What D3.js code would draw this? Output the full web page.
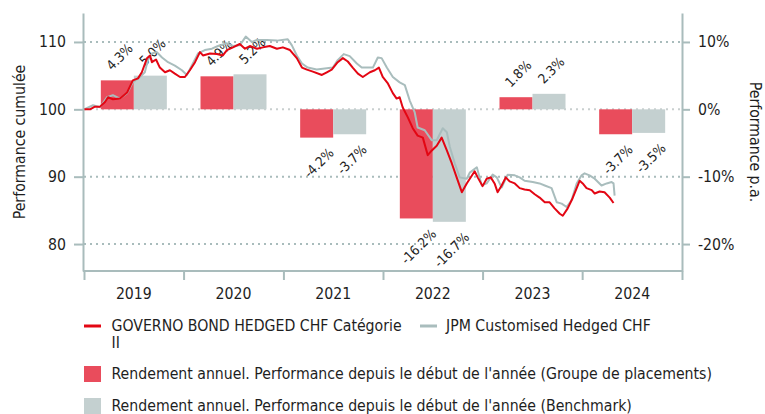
<!DOCTYPE html>
<html>
<head>
<meta charset="utf-8">
<script src="https://cdn.jsdelivr.net/npm/d3@7"></script>
<style>
  body { margin: 0; background: #fff; }
  svg { font-family: 'DejaVu Sans Condensed', 'DejaVu Sans', sans-serif; }
</style>
</head>
<body>
<svg id="chart" width="765" height="414"></svg>
<script>
"use strict";

var parseTime = d3.timeParse('%Y-%m-%d');

var years = ['2019', '2020', '2021', '2022', '2023', '2024'];
var fundReturns = [4.3, 4.9, -4.2, -16.2, 1.8, -3.7];
var benchReturns = [5.0, 5.2, -3.7, -16.7, 2.3, -3.5];

var leftTicks = [80, 90, 100, 110];
var rightTicks = [-20, -10, 0, 10];

var fundDates = [
  '2019-01-01', '2019-01-23', '2019-02-10', '2019-03-01', '2019-03-19', '2019-03-30', '2019-04-17',
  '2019-05-13', '2019-06-08', '2019-06-29', '2019-07-18', '2019-08-01', '2019-08-20', '2019-08-31',
  '2019-09-07', '2019-09-22', '2019-10-06', '2019-10-25', '2019-11-12', '2019-11-30', '2019-12-19',
  '2020-01-06', '2020-01-24', '2020-02-12', '2020-03-01', '2020-03-12', '2020-04-07', '2020-05-02',
  '2020-05-24', '2020-06-08', '2020-06-30', '2020-07-25', '2020-08-13', '2020-08-31', '2020-09-26',
  '2020-10-18', '2020-11-12', '2020-12-08', '2020-12-30', '2021-01-25', '2021-02-19', '2021-03-10',
  '2021-03-28', '2021-04-19', '2021-05-22', '2021-06-09', '2021-06-27', '2021-07-19', '2021-08-07',
  '2021-08-25', '2021-09-12', '2021-10-01', '2021-10-19', '2021-11-14', '2021-12-02', '2021-12-17',
  '2021-12-31', '2022-01-18', '2022-02-06', '2022-02-20', '2022-03-03', '2022-03-14', '2022-04-02',
  '2022-04-20', '2022-05-08', '2022-05-27', '2022-06-14', '2022-06-29', '2022-07-17', '2022-08-04',
  '2022-08-23', '2022-09-10', '2022-09-28', '2022-10-17', '2022-11-04', '2022-12-03', '2022-12-14',
  '2023-01-01', '2023-01-16', '2023-01-31', '2023-02-14', '2023-02-25', '2023-03-12', '2023-03-27',
  '2023-04-10', '2023-04-29', '2023-05-17', '2023-06-04', '2023-06-23', '2023-07-11', '2023-07-29',
  '2023-08-17', '2023-09-04', '2023-09-22', '2023-10-11', '2023-10-22', '2023-11-09', '2023-11-27',
  '2023-12-12', '2023-12-23', '2024-01-03', '2024-01-17', '2024-02-05', '2024-02-16', '2024-03-05',
  '2024-03-23', '2024-04-11', '2024-04-25'
];
var fundValues = [
  100.0, 100.0, 100.4, 100.4, 101.1, 101.8, 101.5,
  101.6, 102.5, 104.3, 104.6, 105.5, 107.6, 108.0,
  107.0, 107.4, 106.2, 105.5, 105.8, 105.3, 104.8,
  104.8, 105.8, 107.0, 108.5, 108.0, 108.3, 108.2,
  108.0, 108.8, 109.2, 109.7, 109.0, 109.4, 109.0,
  109.2, 109.4, 109.0, 109.2, 108.8, 107.6, 106.2,
  105.9, 105.6, 105.1, 105.5, 105.9, 107.0, 107.6,
  107.1, 106.2, 105.3, 104.8, 105.5, 105.8, 106.2,
  104.8, 103.9, 102.4, 101.6, 101.8, 100.3, 98.8,
  97.2, 96.1, 95.8, 93.2, 93.9, 94.6, 95.8,
  93.9, 92.0, 89.9, 87.7, 89.0, 90.8, 89.9,
  88.6, 89.7, 89.9, 89.0, 87.7, 88.7, 89.9,
  89.3, 89.0, 88.3, 88.1, 88.0, 87.4, 86.9,
  86.2, 86.2, 85.3, 84.5, 84.2, 85.3, 86.8,
  88.3, 89.4, 89.0, 88.3, 88.0, 87.5, 87.8,
  87.7, 86.9, 86.1
];

var benchDates = [
  '2019-01-01', '2019-02-03', '2019-03-01', '2019-03-26', '2019-04-17', '2019-05-13', '2019-06-08',
  '2019-06-29', '2019-07-25', '2019-08-12', '2019-08-23', '2019-09-07', '2019-09-25', '2019-10-14',
  '2019-11-05', '2019-11-30', '2019-12-26', '2020-01-13', '2020-02-04', '2020-02-23', '2020-03-19',
  '2020-04-14', '2020-05-06', '2020-06-08', '2020-06-30', '2020-07-25', '2020-08-16', '2020-09-07',
  '2020-09-26', '2020-11-01', '2020-12-08', '2021-01-17', '2021-02-01', '2021-02-19', '2021-03-10',
  '2021-03-31', '2021-05-03', '2021-06-09', '2021-07-01', '2021-07-19', '2021-08-10', '2021-09-01',
  '2021-09-27', '2021-10-15', '2021-11-25', '2021-12-13', '2021-12-27', '2022-01-15', '2022-02-06',
  '2022-03-03', '2022-03-22', '2022-04-09', '2022-04-27', '2022-05-08', '2022-06-03', '2022-06-29',
  '2022-07-17', '2022-08-08', '2022-08-23', '2022-09-03', '2022-09-21', '2022-10-09', '2022-11-04',
  '2022-11-15', '2022-12-11', '2022-12-29', '2023-01-16', '2023-02-07', '2023-02-22', '2023-03-12',
  '2023-04-03', '2023-04-29', '2023-05-17', '2023-06-04', '2023-07-04', '2023-07-29', '2023-08-17',
  '2023-09-11', '2023-09-30', '2023-10-18', '2023-11-05', '2023-11-23', '2023-12-12', '2023-12-30',
  '2024-01-10', '2024-01-28', '2024-02-16', '2024-03-12', '2024-03-31', '2024-04-18', '2024-04-25',
  '2024-04-29'
];
var benchValues = [
  100.0, 100.6, 100.3, 101.8, 102.1, 101.6, 102.4,
  104.0, 104.8, 105.5, 107.3, 108.3, 108.5, 107.7,
  107.0, 106.5, 105.8, 105.1, 106.8, 108.3, 108.8,
  109.0, 109.4, 109.8, 109.4, 109.5, 110.8, 110.0,
  110.3, 110.3, 110.2, 110.4, 109.5, 108.0, 106.8,
  106.2, 105.9, 106.1, 106.2, 107.3, 108.2, 107.9,
  106.8, 106.2, 106.2, 107.7, 107.6, 106.2, 104.8,
  104.0, 103.6, 101.3, 99.6, 97.3, 96.9, 95.4,
  95.4, 97.2, 96.6, 94.4, 92.0, 89.9, 89.7,
  90.6, 91.4, 88.7, 89.0, 90.3, 89.9, 88.4,
  90.3, 90.2, 89.9, 89.4, 89.2, 89.0, 88.7,
  88.3, 86.2, 86.0, 85.5, 86.5, 89.0, 90.2,
  90.5, 90.2, 89.7, 88.7, 89.0, 89.2, 89.0,
  87.2
];

var fundSeries = fundDates.map(function (d, i) { return { date: parseTime(d), value: fundValues[i] }; });
var benchSeries = benchDates.map(function (d, i) { return { date: parseTime(d), value: benchValues[i] }; });

var svg = d3.select('#chart');
var axisColor = '#a9bcbc';
var textColor = '#1e1e1e';
var fontSize = 15.7;
var fmt = function (v) { return v.toFixed(1) + '%'; };

var X = d3.scaleTime().domain([parseTime('2019-01-01'), parseTime('2025-01-01')]).range([84, 682]);
var X0 = d3.scaleBand().domain(years).range([84, 682]);
var X1 = d3.scaleBand().domain(['fund', 'bench']).range([0, X0.bandwidth()]).paddingOuter(0.51);
var YL = d3.scaleLinear().domain([76, 114.3]).range([271, 13]);
var YR = d3.scaleLinear().domain([-24, 14.3]).range([271, 13]);

// grid
svg.append('g').selectAll('line')
  .data(leftTicks)
  .enter().append('line')
  .attr('x1', 84).attr('x2', 682)
  .attr('y1', function (d) { return YL(d); })
  .attr('y2', function (d) { return YL(d); })
  .attr('stroke', function (d) { return d === 100 ? '#c9cfcf' : '#a9bcbc'; })
  .attr('stroke-width', 2)
  .attr('stroke-dasharray', '2,4');

// bars
var bars = [];
years.forEach(function (y, i) {
  bars.push({ year: y, key: 'fund', value: fundReturns[i] });
  bars.push({ year: y, key: 'bench', value: benchReturns[i] });
});

svg.append('g').selectAll('rect')
  .data(bars)
  .enter().append('rect')
  .attr('x', function (d) { return X0(d.year) + X1(d.key); })
  .attr('width', X1.bandwidth())
  .attr('y', function (d) { return Math.min(YR(d.value), YR(0)); })
  .attr('height', function (d) { return Math.abs(YR(d.value) - YR(0)); })
  .attr('fill', function (d) { return d.key === 'fund' ? '#e94c5c' : '#c4d0d0'; });

// bar labels, rotated
var labelSize = 13.5;
var labels = svg.append('g').selectAll('text')
  .data(bars)
  .enter().append('text')
  .attr('font-size', labelSize)
  .attr('fill', textColor)
  .attr('text-anchor', 'middle')
  .attr('dominant-baseline', 'central')
  .text(function (d) { return fmt(d.value); });

labels.each(function (d) {
  var w = this.getComputedTextLength();
  var off = 8 + (w + labelSize) * 0.707 / 2;
  var cx = X0(d.year) + X1(d.key) + X1.bandwidth() / 2 + 2;
  var cy = d.value >= 0 ? YR(d.value) - off : YR(d.value) + off;
  d3.select(this).attr('transform', 'translate(' + cx + ',' + cy + ') rotate(-45)');
});

// lines
var line = d3.line()
  .x(function (d) { return X(d.date); })
  .y(function (d) { return YL(d.value); });

svg.append('path').datum(benchSeries)
  .attr('fill', 'none').attr('stroke', '#a9bdbd').attr('stroke-width', 2)
  .attr('stroke-linejoin', 'round')
  .attr('d', line);
svg.append('path').datum(fundSeries)
  .attr('fill', 'none').attr('stroke', '#e30613').attr('stroke-width', 2)
  .attr('stroke-linejoin', 'round')
  .attr('d', line);

// axes
function styleAxis(g) {
  g.attr('font-family', null).attr('font-size', null);
  g.select('.domain').attr('stroke', axisColor).attr('stroke-width', 2);
  g.selectAll('.tick line').attr('stroke', axisColor).attr('stroke-width', 2);
  g.selectAll('.tick text').attr('font-size', fontSize).attr('fill', textColor);
}

svg.append('g')
  .attr('transform', 'translate(83,0)')
  .call(d3.axisLeft(YL).tickValues(leftTicks).tickSize(9).tickSizeOuter(0).tickPadding(8))
  .call(styleAxis);

svg.append('g')
  .attr('transform', 'translate(682,0)')
  .call(d3.axisRight(YR).tickValues(rightTicks).tickSize(8).tickSizeOuter(0).tickPadding(8)
    .tickFormat(function (d) { return d + '%'; }))
  .call(styleAxis);

svg.append('g')
  .attr('transform', 'translate(0,271)')
  .call(d3.axisBottom(X).ticks(d3.timeYear.every(1)).tickSize(9).tickSizeOuter(0).tickFormat(''))
  .call(styleAxis)
  .call(function (g) { g.select('.domain').attr('d', 'M83,0H683'); });

svg.append('g')
  .attr('transform', 'translate(0,271)')
  .call(d3.axisBottom(X0).tickSize(0).tickPadding(17))
  .call(styleAxis)
  .call(function (g) { g.select('.domain').remove(); });

// axis titles
svg.append('text')
  .attr('transform', 'translate(24.5,142) rotate(-90)')
  .attr('text-anchor', 'middle').attr('font-size', fontSize).attr('fill', textColor)
  .text('Performance cumulée');
svg.append('text')
  .attr('transform', 'translate(750,142) rotate(90)')
  .attr('text-anchor', 'middle').attr('font-size', fontSize).attr('fill', textColor)
  .text('Performance p.a.');

// legend
var legend = svg.append('g').attr('font-size', fontSize).attr('fill', textColor);
legend.append('line').attr('x1', 84).attr('x2', 101).attr('y1', 326).attr('y2', 326)
  .attr('stroke', '#e30613').attr('stroke-width', 3);
var fundLabel = legend.append('text').attr('x', 111.5).attr('y', 331);
fundLabel.append('tspan').text('GOVERNO BOND HEDGED CHF Catégorie');
fundLabel.append('tspan').attr('x', 111.5).attr('dy', 17).text('II');
legend.append('line').attr('x1', 420).attr('x2', 437).attr('y1', 326).attr('y2', 326)
  .attr('stroke', '#a9bdbd').attr('stroke-width', 3);
legend.append('text').attr('x', 446).attr('y', 331).text('JPM Customised Hedged CHF');

legend.append('rect').attr('x', 84).attr('y', 366).attr('width', 17).attr('height', 16).attr('fill', '#e94c5c');
legend.append('text').attr('x', 111.5).attr('y', 378.5)
  .text("Rendement annuel. Performance depuis le début de l'année (Groupe de placements)");
legend.append('rect').attr('x', 84).attr('y', 398).attr('width', 17).attr('height', 16).attr('fill', '#c4d0d0');
legend.append('text').attr('x', 111.5).attr('y', 411)
  .text("Rendement annuel. Performance depuis le début de l'année (Benchmark)");
</script>
</body>
</html>
